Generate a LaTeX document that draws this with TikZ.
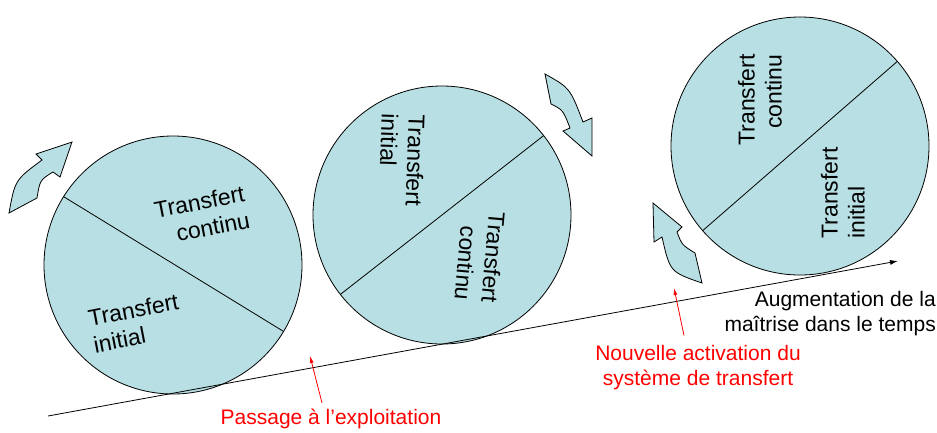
\documentclass[tikz,border=0pt]{standalone}
\usepackage{fontspec}
\setmainfont{Liberation Sans}
\usetikzlibrary{arrows.meta,positioning}
\definecolor{wheelfill}{RGB}{184,223,227}

\begin{document}
\begin{tikzpicture}[
  x=1pt,y=-1pt,
  wheel/.style={draw,circle,fill=wheelfill,line width=0.8pt,minimum size=258pt,inner sep=0pt,outer sep=0pt},
  lbl/.style={font=\fontsize{21}{25}\selectfont,inner sep=0pt},
  part/.style={font=\fontsize{23}{27}\selectfont,inner sep=0pt},
  turn/.style={draw,fill=wheelfill,line width=0.8pt,line join=miter},
  axis/.style={-{Latex[length=8pt,width=5pt]},line width=0.8pt},
  redarr/.style={-{Latex[length=7pt,width=4pt]},red,line width=0.8pt}
]
\useasboundingbox (0,0) rectangle (937,432);

% wheels
\node[wheel] (w1) at (173,265) {};
\node[wheel] (w2) at (442,215) {};
\node[wheel] (w3) at (800,146) {};
\draw[line width=0.8pt] (w1.148.5) -- (w1.-31.5);
\draw[line width=0.8pt] (w2.218.7) -- (w2.38.7);
\draw[line width=0.8pt] (w3.221.2) -- (w3.41.2);

\node[part,align=right,rotate=11] (w1cont) at (202,215) {Transfert\\continu};
\node[part,align=left,rotate=11] (w1init) at (136,323) {Transfert\\initial};
\node[part,align=left,rotate=-92] (w2init) at (402,160) {Transfert\\initial};
\node[part,align=right,rotate=-95] (w2cont) at (480,256) {Transfert\\continu};
\node[part,align=right,rotate=90] (w3cont) at (760,100) {Transfert\\continu};
\node[part,align=left,rotate=90] (w3init) at (843,193) {Transfert\\initial};

% rotation arrows
\draw[turn] (9,213) .. controls (15,180) .. (42,160) -- (36,154) -- (72,142)
  -- (60,177) -- (53,172) .. controls (40,180) .. (37,198) -- cycle;
\draw[turn] (545,74) .. controls (570,88) .. (583,122) -- (592,118) -- (592,156)
  -- (563,131) -- (570,128) .. controls (563,110) .. (551,104) -- cycle;
\draw[turn] (653,203) -- (654,242) -- (662,237) .. controls (670,272) .. (702,283)
  -- (695,253) .. controls (682,245) .. (677,232) -- (682,227) -- cycle;

% time axis
\coordinate (t0) at (48,416);
\coordinate (t1) at (898,261);
\draw[axis] (t0) -- (t1);
\node[lbl,align=right,anchor=east] (mastery) at (936,314) {Augmentation de la\\maîtrise dans le temps};

% annotations
\node[lbl,red] (passage) at (331,419) {Passage à l’exploitation};
\node[lbl,red,align=center] (reactiv) at (698,368) {Nouvelle activation du\\système de transfert};
\coordinate (tipA) at (310,356);
\coordinate (tipB) at (674,288);
\draw[redarr] ([xshift=-9pt,yshift=6pt]passage.north) -- (tipA);
\draw[redarr] ([xshift=-14pt,yshift=10pt]reactiv.north) -- (tipB);
\end{tikzpicture}
\end{document}
